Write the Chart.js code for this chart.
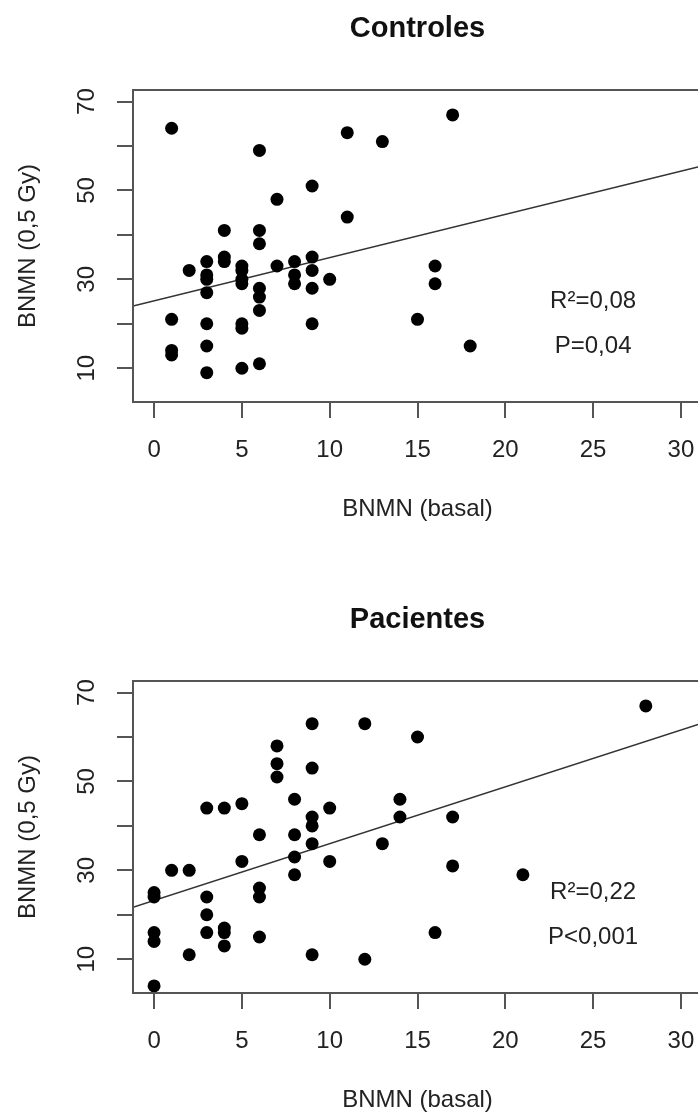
<!DOCTYPE html>
<html>
<head>
<meta charset="utf-8">
<title>BNMN basal vs 0,5 Gy</title>
<script src="https://cdn.jsdelivr.net/npm/chart.js@4.4.1/dist/chart.umd.min.js"></script>
<style>
  html, body { margin: 0; padding: 0; background: #fff; overflow: hidden; }
  canvas { display: block; }
  #gap { height: 67px; }
</style>
</head>
<body>
<canvas id="controlsChart" width="720" height="524"></canvas>
<div id="gap"></div>
<canvas id="patientsChart" width="720" height="524"></canvas>
<script>
// Controles: BNMN basal (x) vs BNMN 0,5 Gy (y)
const controlsBasal = [1, 11, 13, 6, 9, 7, 11, 4, 6, 6, 4, 4, 3, 2, 3, 3, 3, 5, 5, 5, 5, 6, 6, 6,
  7, 8, 8, 8, 9, 9, 9, 10, 1, 3, 5, 5, 9, 1, 1, 3, 3, 5, 6, 17, 16, 16, 15, 18];
const controlsIrradiated = [64, 63, 61, 59, 51, 48, 44, 41, 41, 38, 35, 34, 34, 32, 31, 30, 27, 33, 32, 30, 29, 28, 26, 23,
  33, 34, 31, 29, 35, 32, 28, 30, 21, 20, 20, 19, 20, 14, 13, 15, 9, 10, 11, 67, 33, 29, 21, 15];

// Pacientes
const patientsBasal = [0, 0, 0, 0, 0, 1, 2, 2, 3, 3, 3, 3, 4, 4, 4, 4, 5, 5, 6, 6, 6, 6,
  7, 7, 7, 8, 8, 8, 8, 9, 9, 9, 9, 9, 9, 10, 10, 12, 12, 13, 14, 14, 15, 16, 17, 17, 21, 28];
const patientsIrradiated = [4, 14, 16, 24, 25, 30, 30, 11, 44, 24, 20, 16, 44, 17, 16, 13, 45, 32, 38, 26, 24, 15,
  58, 54, 51, 46, 38, 33, 29, 63, 53, 42, 40, 36, 11, 44, 32, 63, 10, 36, 46, 42, 60, 16, 42, 31, 29, 67];

// fitted regression lines, endpoints read at the plot edges
const fitX = [-1.2, 31.2];
const controlsFitY = [24.0, 55.5];
const patientsFitY = [21.7, 63.1];

const controlsNotes = ['R²=0,08', 'P=0,04'];
const patientsNotes = ['R²=0,22', 'P<0,001'];

// axes
const xTickValues = [0, 5, 10, 15, 20, 25, 30];
const yTickValues = [10, 20, 30, 40, 50, 60, 70];
const yTickLabels = [10, 30, 50, 70];

const FONT = "'Liberation Sans', Arial, Helvetica, sans-serif";
const INK = '#222';
const AXIS = '#555';

// draws the R-style box, main title, vertical y labels and the R²/P notes
const rPlot = {
  id: 'rPlot',
  afterDraw(chart, args, opts) {
    const { ctx, chartArea } = chart;
    const { left, right, top, bottom } = chartArea;
    const xs = chart.scales.x;
    const ys = chart.scales.y;

    ctx.save();
    ctx.strokeStyle = AXIS;
    ctx.lineWidth = 2;
    ctx.strokeRect(left, top, right - left, bottom - top);

    ctx.fillStyle = '#111';
    ctx.textAlign = 'center';
    ctx.textBaseline = 'middle';
    ctx.font = `bold 29px ${FONT}`;
    ctx.fillText(opts.title, (left + right) / 2, 29);

    ctx.fillStyle = INK;
    ctx.font = `24px ${FONT}`;
    yTickLabels.forEach((v) => {
      ctx.save();
      ctx.translate(87, ys.getPixelForValue(v));
      ctx.rotate(-Math.PI / 2);
      ctx.fillText(String(v), 0, 0);
      ctx.restore();
    });

    opts.notes.forEach((text, i) => {
      ctx.fillText(text, xs.getPixelForValue(25), ys.getPixelForValue(i === 0 ? 25 : 15));
    });
    ctx.restore();
  },
};

function makeChart(id, title, basal, irradiated, fitY, notes) {
  const points = basal.map((x, i) => ({ x, y: irradiated[i] }));
  return new Chart(document.getElementById(id), {
    type: 'scatter',
    data: {
      datasets: [
        {
          data: points,
          pointRadius: 6.5,
          pointHoverRadius: 6.5,
          pointBackgroundColor: '#000',
          pointBorderWidth: 0,
        },
        {
          type: 'line',
          data: fitX.map((x, i) => ({ x, y: fitY[i] })),
          borderColor: '#333',
          borderWidth: 1.5,
          pointRadius: 0,
          fill: false,
        },
      ],
    },
    options: {
      responsive: false,
      animation: false,
      events: [],
      layout: { padding: { top: 90, right: 18, left: 0, bottom: 0 } },
      plugins: {
        legend: { display: false },
        tooltip: { enabled: false },
        rPlot: { title, notes },
      },
      scales: {
        x: {
          type: 'linear',
          min: -1.2,
          max: 31.2,
          afterBuildTicks: (s) => { s.ticks = xTickValues.map((value) => ({ value })); },
          afterFit: (s) => { s.height = 122; },
          border: { display: false },
          grid: { drawOnChartArea: false, drawTicks: true, tickLength: 16, color: AXIS, lineWidth: 2 },
          ticks: { color: INK, padding: 18, maxRotation: 0, font: { family: FONT, size: 24 } },
          title: {
            display: true,
            text: 'BNMN (basal)',
            color: INK,
            padding: { top: 0, bottom: 0 },
            font: { family: FONT, size: 24 },
          },
        },
        y: {
          type: 'linear',
          min: 2.4,
          max: 72.6,
          afterBuildTicks: (s) => { s.ticks = yTickValues.map((value) => ({ value })); },
          afterFit: (s) => { s.width = 133; },
          border: { display: false },
          grid: { drawOnChartArea: false, drawTicks: true, tickLength: 16, color: AXIS, lineWidth: 2 },
          ticks: { display: false },
          title: {
            display: true,
            text: 'BNMN (0,5 Gy)',
            color: INK,
            padding: { top: 14, bottom: 0 },
            font: { family: FONT, size: 24 },
          },
        },
      },
    },
    plugins: [rPlot],
  });
}

makeChart('controlsChart', 'Controles', controlsBasal, controlsIrradiated, controlsFitY, controlsNotes);
makeChart('patientsChart', 'Pacientes', patientsBasal, patientsIrradiated, patientsFitY, patientsNotes);
</script>
</body>
</html>
